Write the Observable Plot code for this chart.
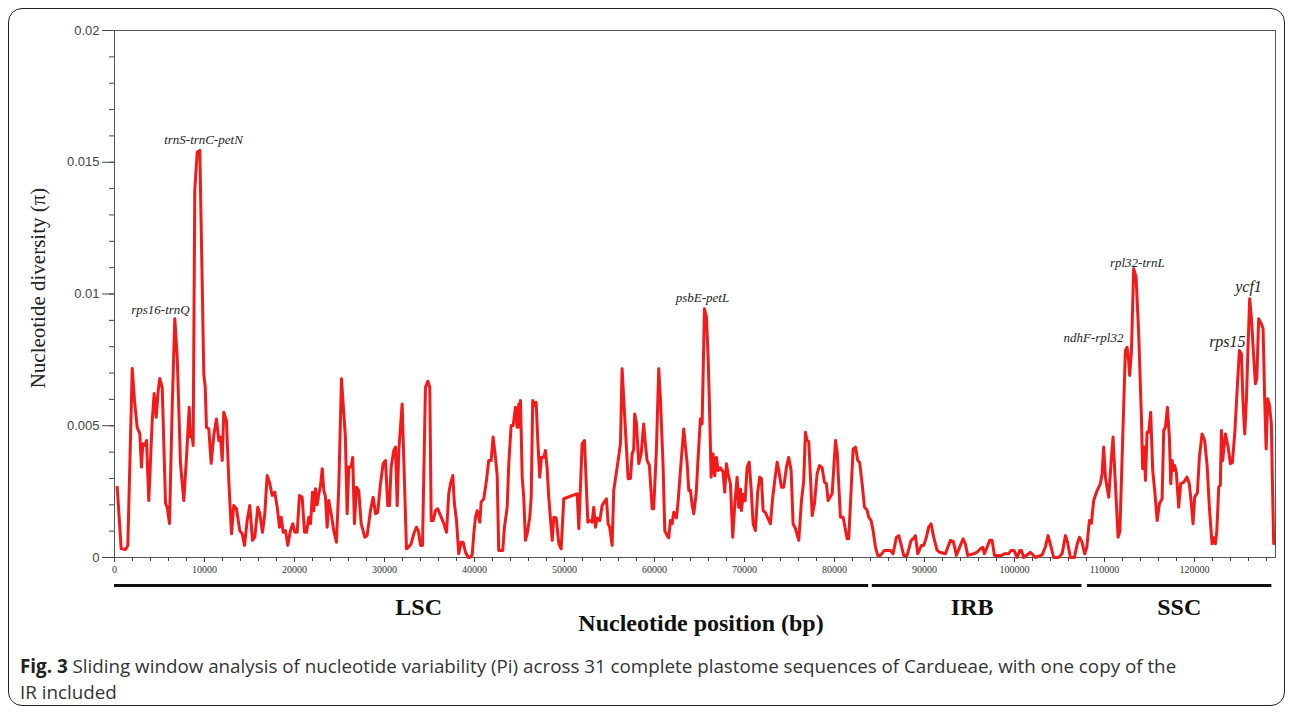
<!DOCTYPE html>
<html>
<head>
<meta charset="utf-8">
<script src="https://cdn.jsdelivr.net/npm/d3@7"></script>
<script src="https://cdn.jsdelivr.net/npm/@observablehq/plot@0.6"></script>
<style>
  body { margin: 0; background: #fff; width: 1292px; height: 713px; position: relative; overflow: hidden; }
  #border { position: absolute; left: 8px; top: 8px; width: 1277px; height: 698px; border: 1.5px solid #222; border-radius: 14px; box-sizing: border-box; }
  #chart { position: absolute; left: 0; top: 0; }
  #caption { position: absolute; left: 20px; top: 653px; font-family: "Open Sans", sans-serif; font-size: 18.8px; line-height: 26px; color: #333; white-space: nowrap; }
  #caption b { color: #222; }
</style>
</head>
<body>
<div id="border"></div>
<div id="chart"></div>
<div id="caption"><b>Fig. 3</b> Sliding window analysis of nucleotide variability (Pi) across 31 complete plastome sequences of Cardueae, with one copy of the<br>IR included</div>
<script>
// Sliding-window nucleotide diversity: [position (bp), pi]
const windows = [
[300,0.00267],[740,0.00034],[1220,0.00030],[1480,0.00046],[1970,0.00717],[2220,0.00596],[2520,0.00494],[2810,0.00470],[3000,0.00343],[3140,0.00432],
[3370,0.00425],[3560,0.00444],[3810,0.00216],[4190,0.00520],[4410,0.00622],[4630,0.00532],[4860,0.00634],[5030,0.00679],[5300,0.00646],[5670,0.00205],
[5850,0.00191],[6110,0.00129],[6410,0.00570],[6700,0.00906],[6970,0.00760],[7330,0.00357],[7700,0.00216],[8000,0.00380],[8300,0.00570],[8440,0.00457],
[8550,0.00488],[8740,0.00425],[8920,0.01393],[9190,0.01538],[9480,0.01545],[9740,0.01051],[9920,0.00697],[10080,0.00646],[10220,0.00494],[10480,0.00488],
[10740,0.00357],[11030,0.00463],[11330,0.00526],[11590,0.00444],[11780,0.00457],[11970,0.00368],[12140,0.00551],[12440,0.00520],[12700,0.00292],[13000,0.00090],
[13250,0.00197],[13550,0.00185],[13920,0.00102],[14190,0.00090],[14440,0.00046],[14740,0.00140],[15030,0.00197],[15330,0.00065],[15590,0.00077],[15920,0.00191],
[16140,0.00167],[16440,0.00096],[16700,0.00166],[16960,0.00311],[17220,0.00286],[17520,0.00235],[17810,0.00248],[18080,0.00191],[18330,0.00115],[18520,0.00153],
[18740,0.00096],[19000,0.00102],[19250,0.00046],[19550,0.00102],[19810,0.00128],[20030,0.00096],[20300,0.00096],[20550,0.00235],[20850,0.00229],[21110,0.00096],
[21330,0.00096],[21590,0.00153],[21780,0.00128],[22000,0.00248],[22140,0.00177],[22330,0.00261],[22520,0.00200],[22700,0.00240],[22890,0.00273],[23080,0.00337],
[23260,0.00254],[23440,0.00230],[23630,0.00115],[23810,0.00216],[24110,0.00159],[24360,0.00102],[24660,0.00058],[24920,0.00267],[25220,0.00678],[25470,0.00550],
[25650,0.00460],[25850,0.00166],[26030,0.00343],[26290,0.00343],[26470,0.00380],[26660,0.00128],[26890,0.00267],[27140,0.00254],[27410,0.00128],[27810,0.00077],
[28070,0.00083],[28440,0.00178],[28740,0.00229],[29000,0.00166],[29250,0.00172],[29550,0.00280],[29850,0.00356],[30110,0.00368],[30360,0.00197],[30550,0.00197],
[30740,0.00343],[31030,0.00406],[31220,0.00419],[31410,0.00197],[31590,0.00406],[31960,0.00583],[32440,0.00033],[32700,0.00040],[32960,0.00052],[33250,0.00090],
[33550,0.00115],[33770,0.00100],[34000,0.00046],[34220,0.00046],[34550,0.00646],[34810,0.00669],[35030,0.00646],[35190,0.00140],[35410,0.00140],[35660,0.00178],
[35920,0.00185],[36220,0.00160],[36590,0.00128],[36890,0.00096],[37140,0.00242],[37330,0.00280],[37590,0.00311],[37770,0.00204],[38000,0.00140],[38250,0.00014],
[38520,0.00058],[38740,0.00058],[39000,0.00020],[39300,0.00000],[39550,0.00001],[39740,0.00010],[39920,0.00090],[40110,0.00153],[40300,0.00178],[40590,0.00134],
[40740,0.00210],[41030,0.00223],[41330,0.00292],[41580,0.00368],[41850,0.00368],[42070,0.00457],[42330,0.00380],[42520,0.00311],[42690,0.00027],[43140,0.00027],
[43330,0.00115],[43630,0.00191],[43810,0.00356],[44070,0.00501],[44300,0.00501],[44550,0.00570],[44740,0.00494],[44920,0.00583],[45030,0.00494],[45110,0.00596],
[45300,0.00305],[45470,0.00229],[45660,0.00065],[45850,0.00090],[46140,0.00153],[46300,0.00229],[46470,0.00596],[46660,0.00577],[46850,0.00589],[47030,0.00444],
[47250,0.00305],[47440,0.00380],[47700,0.00380],[47880,0.00406],[48070,0.00340],[48250,0.00229],[48630,0.00065],[48810,0.00153],[49080,0.00150],[49370,0.00052],
[49630,0.00033],[49920,0.00223],[50850,0.00235],[51410,0.00242],[51590,0.00109],[51960,0.00432],[52220,0.00444],[52590,0.00134],[52810,0.00140],[53070,0.00134],
[53250,0.00191],[53440,0.00115],[53630,0.00150],[53920,0.00140],[54180,0.00197],[54400,0.00210],[54660,0.00223],[54850,0.00128],[55020,0.00115],[55290,0.00046],
[55470,0.00254],[55850,0.00343],[56220,0.00432],[56400,0.00716],[57070,0.00299],[57330,0.00300],[57520,0.00394],[57690,0.00410],[57800,0.00545],[57990,0.00510],
[58250,0.00356],[58520,0.00394],[58800,0.00507],[58990,0.00430],[59180,0.00368],[59430,0.00350],[59740,0.00185],[59910,0.00185],[60210,0.00406],[60470,0.00716],
[60660,0.00600],[60960,0.00343],[61140,0.00102],[61400,0.00083],[61580,0.00075],[61770,0.00140],[61960,0.00128],[62140,0.00172],[62440,0.00150],[62630,0.00216],
[62880,0.00330],[63250,0.00488],[63440,0.00420],[63630,0.00356],[63810,0.00254],[64000,0.00254],[64180,0.00200],[64360,0.00166],[64630,0.00242],[64850,0.00380],
[65100,0.00526],[65290,0.00507],[65550,0.00944],[65770,0.00912],[65960,0.00760],[66140,0.00532],[66290,0.00305],[66510,0.00394],[66690,0.00310],[66880,0.00380],
[67070,0.00330],[67320,0.00340],[67620,0.00324],[67800,0.00248],[67990,0.00356],[68250,0.00305],[68440,0.00280],[68690,0.00077],[68920,0.00200],[69180,0.00305],
[69360,0.00190],[69550,0.00260],[69660,0.00178],[69850,0.00240],[70070,0.00215],[70290,0.00343],[70520,0.00362],[70740,0.00260],[70960,0.00128],[71210,0.00102],
[71470,0.00250],[71690,0.00305],[71880,0.00300],[72070,0.00178],[72330,0.00170],[72580,0.00150],[72880,0.00128],[73140,0.00230],[73360,0.00292],[73630,0.00362],
[73810,0.00330],[74110,0.00267],[74360,0.00267],[74660,0.00343],[74910,0.00380],[75180,0.00330],[75400,0.00128],[75660,0.00110],[76030,0.00065],[76330,0.00216],
[76580,0.00290],[76770,0.00475],[76960,0.00444],[77140,0.00440],[77330,0.00305],[77520,0.00159],[77770,0.00204],[78070,0.00318],[78330,0.00349],[78630,0.00340],
[78880,0.00286],[79100,0.00280],[79290,0.00216],[79740,0.00242],[80110,0.00444],[80300,0.00400],[80440,0.00300],[80660,0.00153],[80960,0.00153],[81400,0.00071],
[81580,0.00071],[82070,0.00412],[82330,0.00419],[82580,0.00368],[82800,0.00360],[83070,0.00280],[83330,0.00191],[83620,0.00180],[83800,0.00153],[84070,0.00140],
[84290,0.00102],[84550,0.00040],[84800,0.00008],[85100,0.00008],[85540,0.00027],[85840,0.00027],[86210,0.00027],[86510,0.00014],[86880,0.00077],[87140,0.00083],
[87320,0.00060],[87690,0.00008],[88070,0.00008],[88510,0.00065],[88740,0.00071],[88990,0.00083],[89250,0.00014],[89660,0.00046],[89910,0.00046],[90210,0.00077],
[90460,0.00115],[90730,0.00128],[91020,0.00077],[91400,0.00027],[91690,0.00020],[92320,0.00014],[92880,0.00065],[93210,0.00060],[93540,0.00008],[93990,0.00046],
[94290,0.00071],[94550,0.00050],[94800,0.00008],[95470,0.00014],[95840,0.00020],[96210,0.00033],[96470,0.00039],[96660,0.00014],[97250,0.00065],[97510,0.00065],
[97770,0.00008],[98550,0.00008],[98880,0.00014],[99330,0.00014],[99620,0.00027],[99940,0.00027],[100290,0.00000],[100580,0.00027],[100770,0.00027],[101020,0.00000],
[101770,0.00020],[102320,0.00000],[103070,0.00010],[103430,0.00040],[103730,0.00083],[103990,0.00050],[104360,0.00000],[104880,0.00000],[105290,0.00014],[105660,0.00083],
[105880,0.00060],[106210,0.00000],[106650,0.00000],[106960,0.00050],[107210,0.00077],[107490,0.00060],[107800,0.00014],[108040,0.00040],[108320,0.00140],[108540,0.00130],
[108800,0.00216],[109180,0.00254],[109540,0.00280],[109730,0.00318],[109910,0.00419],[110100,0.00305],[110470,0.00229],[110770,0.00380],[110950,0.00457],[111210,0.00280],
[111510,0.00077],[111710,0.00100],[112320,0.00786],[112510,0.00798],[112650,0.00760],[112800,0.00691],[112990,0.00780],[113240,0.01096],[113510,0.01064],[113800,0.00849],
[114100,0.00532],[114240,0.00337],[114400,0.00419],[114550,0.00292],[114730,0.00475],[114910,0.00475],[115130,0.00551],[115360,0.00330],[115580,0.00254],[115850,0.00140],
[116100,0.00204],[116400,0.00223],[116580,0.00482],[116770,0.00494],[116990,0.00570],[117210,0.00457],[117360,0.00280],[117510,0.00368],[117660,0.00330],[117800,0.00349],
[117990,0.00320],[118240,0.00191],[118470,0.00280],[118800,0.00285],[119170,0.00305],[119420,0.00280],[119650,0.00204],[119840,0.00128],[120020,0.00229],[120320,0.00245],
[120540,0.00380],[120840,0.00469],[121130,0.00444],[121400,0.00350],[121650,0.00191],[121950,0.00052],[122130,0.00075],[122320,0.00052],[122480,0.00100],[122690,0.00267],
[122870,0.00275],[122990,0.00482],[123130,0.00368],[123430,0.00469],[123730,0.00420],[123990,0.00356],[124210,0.00360],[124490,0.00480],[124760,0.00650],[124990,0.00786],
[125210,0.00773],[125380,0.00600],[125580,0.00469],[125770,0.00600],[125930,0.00780],[126130,0.00982],[126320,0.00912],[126580,0.00760],[126770,0.00659],[126930,0.00680],
[127130,0.00906],[127430,0.00887],[127620,0.00868],[127800,0.00596],[127960,0.00412],[128130,0.00602],[128320,0.00580],[128540,0.00507],[128650,0.00300],[128800,0.00052]
];

// Annotated hotspots
const hotspotNames = ["rps16-trnQ", "trnS-trnC-petN", "psbE-petL", "rpl32-trnL", "ndhF-rpl32"];
const hotspotPos   = [5110, 9890, 65330, 113650, 108770];
const hotspotPi    = [0.00941, 0.01586, 0.00987, 0.01120, 0.00835];
const bigHotspotNames = ["rps15", "ycf1"];
const bigHotspotPos   = [123650, 126000];
const bigHotspotPi    = [0.00820, 0.01028];

// Plastome regions
const regionNames  = ["LSC", "IRB", "SSC"];
const regionStart  = [0, 84200, 108100];
const regionEnd    = [83800, 107500, 128600];
const regionLabelX = [33800, 95300, 118300];

// Axis ticks
const xTicks = [0, 10000, 20000, 30000, 40000, 50000, 60000, 70000, 80000, 90000, 100000, 110000, 120000];
const xMinorTicks = d3.range(0, 129000, 2000);
const yTicks = [0, 0.005, 0.01, 0.015, 0.02];
const yMinorTicks = d3.range(0, 21).map(i => i / 1000);

const hotspots = hotspotNames.map((n, i) => ({name: n, pos: hotspotPos[i], pi: hotspotPi[i]}));
const bigHotspots = bigHotspotNames.map((n, i) => ({name: n, pos: bigHotspotPos[i], pi: bigHotspotPi[i]}));
const regions = regionNames.map((n, i) => ({name: n, start: regionStart[i], end: regionEnd[i], lx: regionLabelX[i]}));

const serif = "'Liberation Serif', 'Times New Roman', serif";
const sans = "'Liberation Sans', Arial, sans-serif";

const chart = Plot.plot({
  width: 1292,
  height: 645,
  marginLeft: 114,
  marginRight: 17,
  marginTop: 30,
  marginBottom: 88,
  x: {domain: [0, 129000]},
  y: {domain: [0, 0.02]},
  style: {background: "transparent", fontFamily: sans, overflow: "visible"},
  marks: [
    Plot.frame({stroke: "#555", strokeWidth: 1}),
    Plot.axisY({ticks: yMinorTicks, tickSize: 5, tickFormat: () => "", label: null, stroke: "#444"}),
    Plot.axisY({ticks: yTicks, tickSize: 12, tickPadding: 3, label: null, stroke: "#444",
      tickFormat: d => String(+d.toFixed(4)), fontSize: 13, fill: "#444"}),
    Plot.axisX({ticks: xMinorTicks, tickSize: 4, tickFormat: () => "", label: null, stroke: "#444"}),
    Plot.axisX({ticks: xTicks, tickSize: 5, tickPadding: 3, label: null, stroke: "#444",
      tickFormat: d => String(d), fontSize: 10, fontFamily: serif, fill: "#333"}),
    Plot.line(windows, {x: d => d[0], y: d => d[1], stroke: "#f21a1a", strokeWidth: 3, strokeLinejoin: "round"}),
    Plot.text(hotspots, {x: "pos", y: "pi", text: "name", fontFamily: serif, fontStyle: "italic", fontSize: 13, fill: "#222"}),
    Plot.text(bigHotspots, {x: "pos", y: "pi", text: "name", fontFamily: serif, fontStyle: "italic", fontSize: 16, fill: "#222"}),
    Plot.ruleY(regions, {y: () => 0, x1: "start", x2: "end", dy: 28, stroke: "#111", strokeWidth: 3}),
    Plot.text(regions, {x: "lx", y: () => 0, text: "name", dy: 50, fontFamily: serif, fontWeight: "bold", fontSize: 24, fill: "#111"}),
    Plot.text(["Nucleotide position (bp)"], {text: d => d, frameAnchor: "bottom", dx: 6, dy: 73, fontFamily: serif, fontWeight: "bold", fontSize: 24, fill: "#111"}),
    Plot.text(["Nucleotide diversity (\u03c0)"], {text: d => d, frameAnchor: "left", textAnchor: "middle", rotate: -90, dx: -76, dy: -6, fontFamily: serif, fontSize: 21, fill: "#222"})
  ]
});
document.getElementById("chart").appendChild(chart);
</script>
</body>
</html>
